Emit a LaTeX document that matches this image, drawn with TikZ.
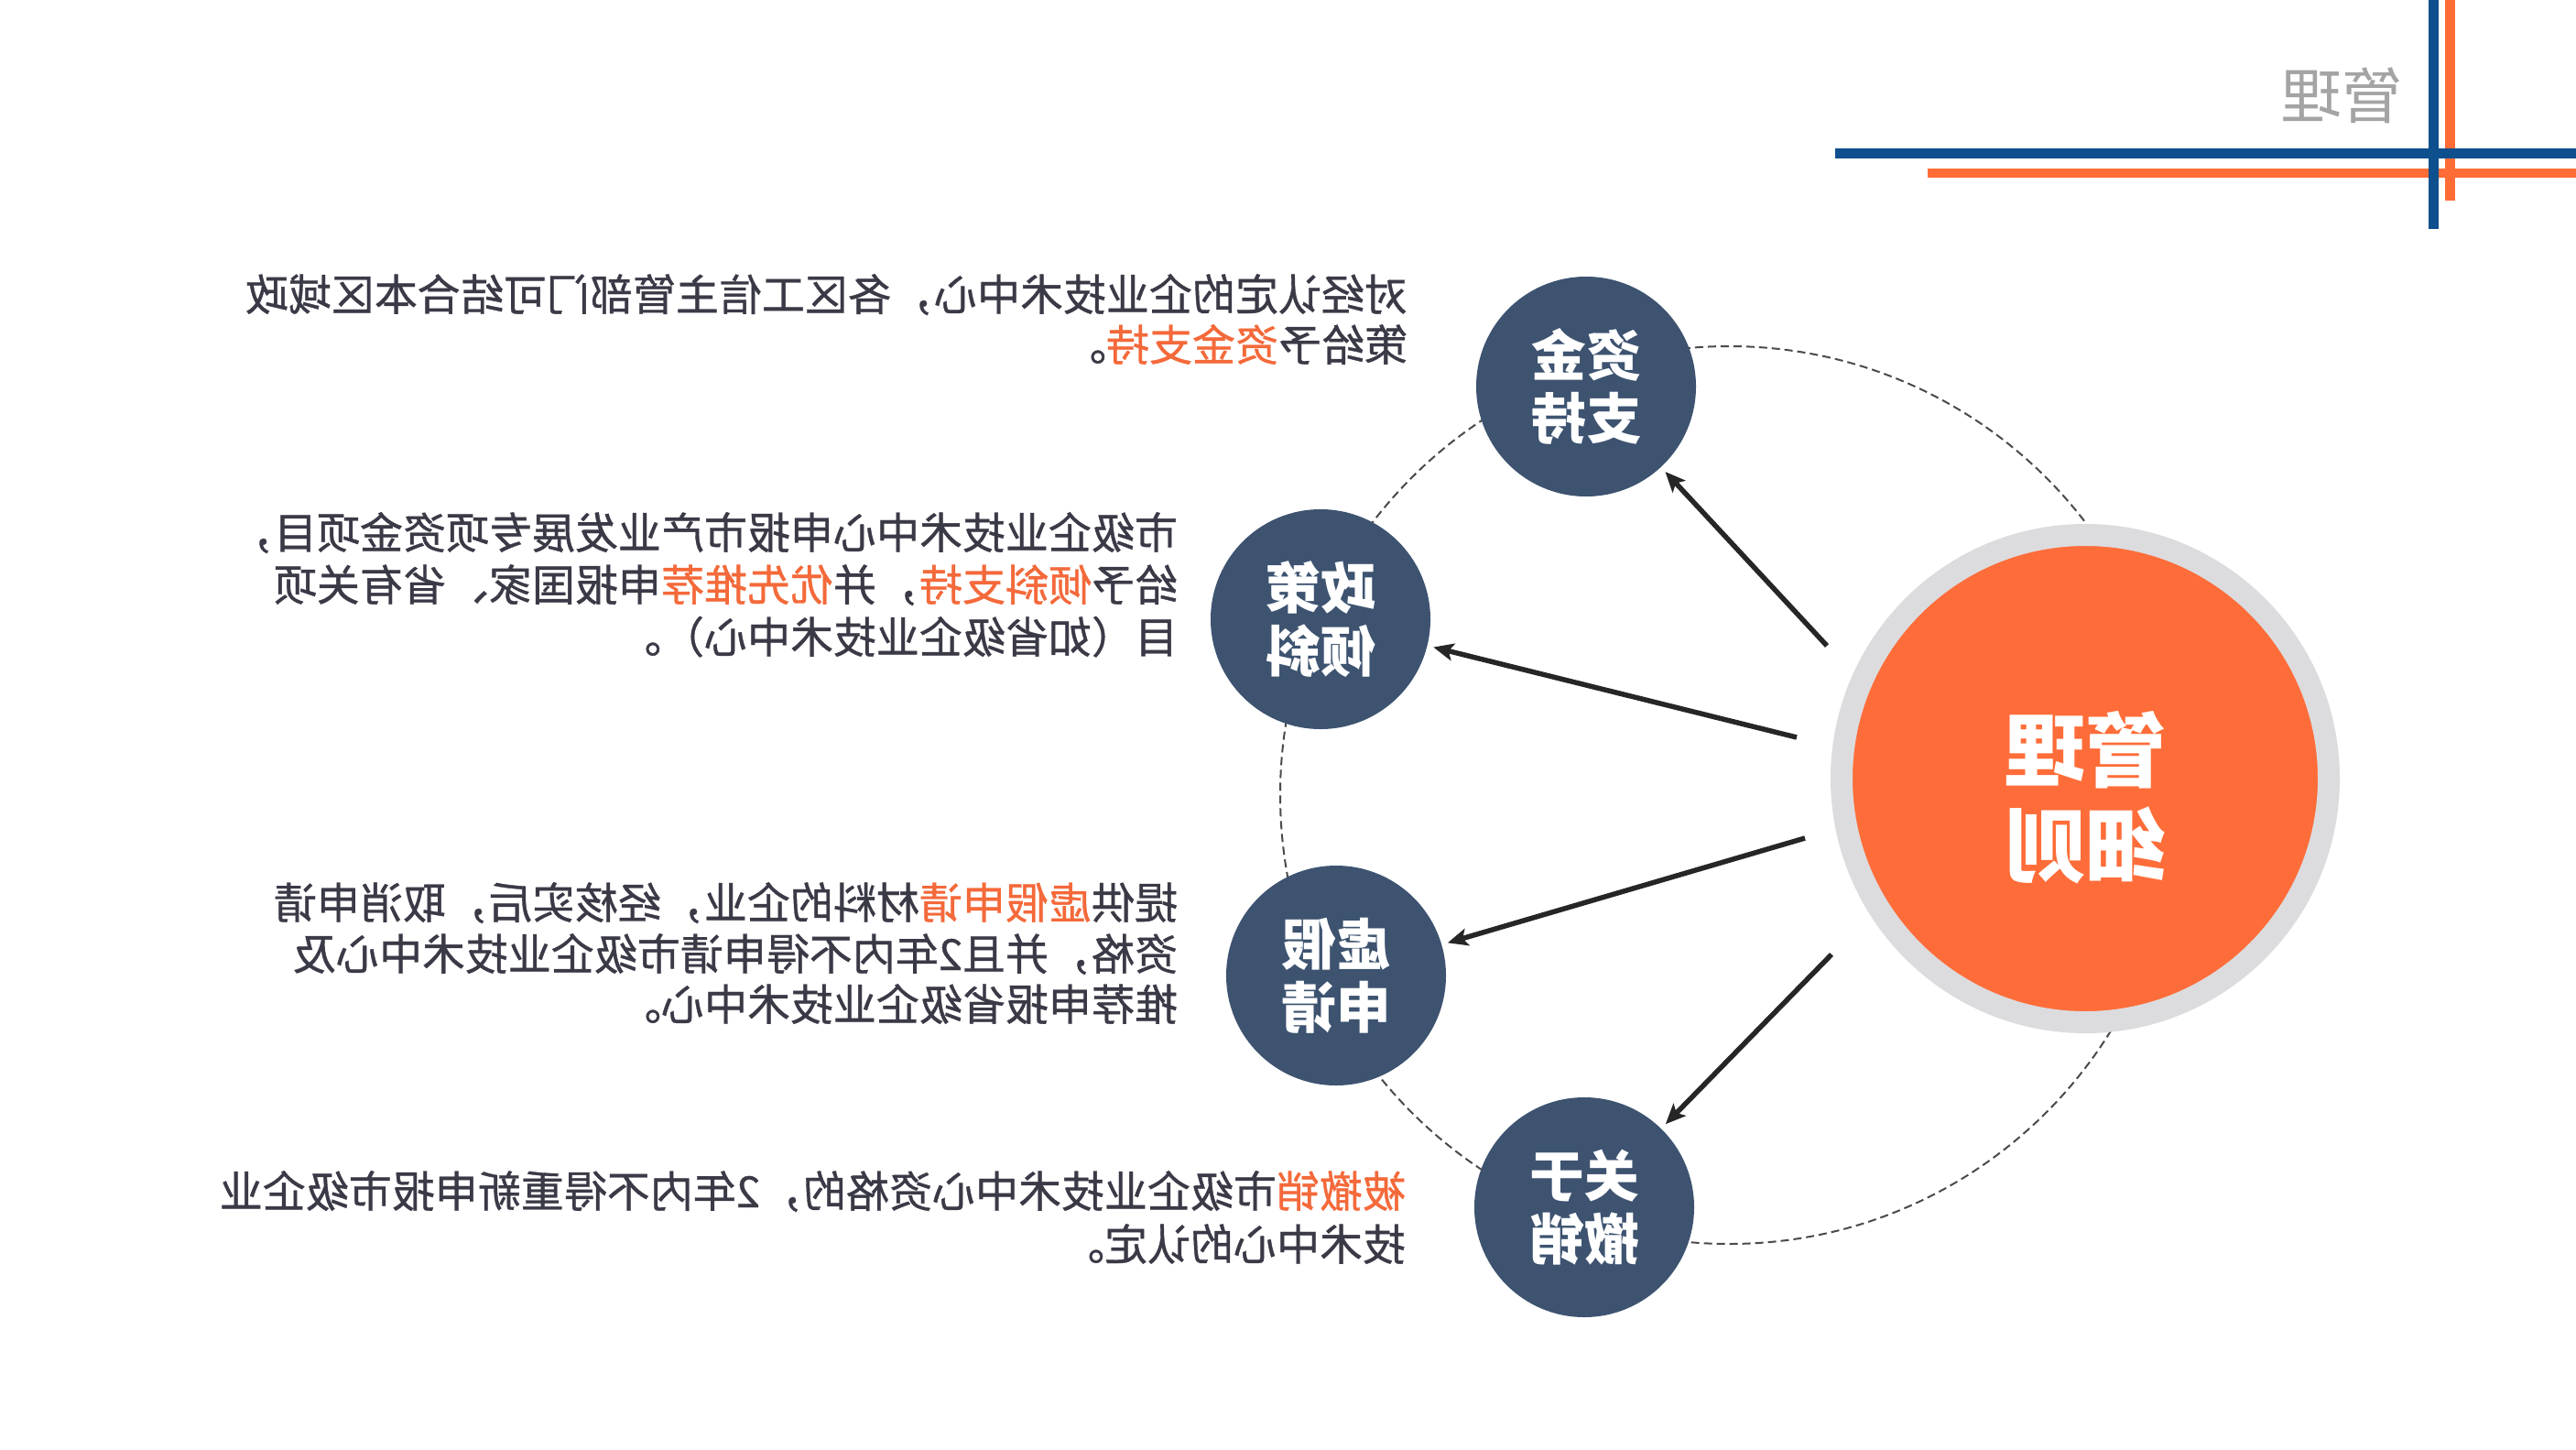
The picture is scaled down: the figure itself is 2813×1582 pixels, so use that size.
\documentclass[tikz,border=0pt]{standalone}
\usepackage{fontspec}
\setmainfont{Noto Sans CJK SC}
\newfontfamily\bodyf[FakeBold=0.8]{Noto Sans CJK SC}
\usetikzlibrary{arrows.meta}
\definecolor{navy}{HTML}{3D5370}
\definecolor{org}{HTML}{FE6D39}
\definecolor{hl}{HTML}{F4693A}
\definecolor{txt}{HTML}{3A3A47}
\definecolor{ring}{HTML}{DCDCDF}
\definecolor{lblue}{HTML}{0E4F8E}
\definecolor{lorg}{HTML}{FF6C36}
\definecolor{ttl}{HTML}{A4A4A4}
\definecolor{arrc}{HTML}{262626}
\definecolor{dashc}{HTML}{4A4A4A}
\tikzset{
  mir/.style={xscale=-1, inner sep=0pt, outer sep=0pt},
  body/.style={mir, anchor=base west, text=txt, font=\bodyf\fontsize{47pt}{56pt}\selectfont},
  bub/.style={circle, fill=navy, minimum size=240pt, inner sep=0pt, outer sep=0pt, text=white,
    font=\bfseries\fontsize{60pt}{69pt}\selectfont, align=center, xscale=-1},
  arrline/.style={draw=arrc, line width=5.5pt, -{Stealth[length=22pt,width=19pt,inset=5pt]}, shorten >=7pt},
  orbit/.style={draw=dashc, line width=2pt, dash pattern=on 9pt off 5pt},
}
\begin{document}
\begin{tikzpicture}[x=1pt,y=-1pt]
\fill[white] (0,0) rectangle (2813,1582);
\useasboundingbox (0,0) rectangle (2813,1582);
% decorative lines
\fill[lorg] (2105,184) rectangle (2813,194);
\fill[lorg] (2670,0) rectangle (2681,219);
\fill[lblue] (2004,162) rectangle (2813,173);
\fill[lblue] (2652,0) rectangle (2663,250);
\node[mir, text=ttl, font=\fontsize{66pt}{70pt}\selectfont] (title) at (2557,104) {管理};
% orbit
\coordinate (oc) at (1888,868);
\draw[orbit] (oc) circle[radius=490pt];
% bubbles
\node[bub] (zj) at (1732,422) {资金\\支持};
\node[bub] (zc) at (1442,676) {政策\\倾斜};
\node[bub] (xj) at (1459,1065) {虚假\\申请};
\node[bub] (gy) at (1730,1318) {关于\\撤销};
% centre
\node[circle, fill=org, draw=ring, line width=24pt, minimum size=532pt, inner sep=0pt] (mc) at (2277,850) {};
\node[mir, text=white, font=\bfseries\fontsize{88pt}{104pt}\selectfont, align=center] (mt) at (2277,871) {管理\\细则};
% arrows
\coordinate (a1) at (1995,705);
\coordinate (a2) at (1962,805);
\coordinate (a3) at (1971,915);
\coordinate (a4) at (2000,1042);
\draw[arrline] (a1) -- (zj);
\draw[arrline] (a2) -- (zc);
\draw[arrline] (a3) -- (xj);
\draw[arrline] (a4) -- (gy);
% texts
\node[body] (t1a) at (1537,339) {对经认定的企业技术中心，各区工信主管部门可结合本区域政};
\node[body] (t1b) at (1537,394) {策给予\textcolor{hl}{资金支持}。};
\node[body] (t2a) at (1286,599) {市级企业技术中心申报市产业发展专项资金项目，};
\node[body] (t2b) at (1286,656) {给予\textcolor{hl}{倾斜支持}，并\textcolor{hl}{优先推荐}申报国家、省有关项};
\node[body] (t2c) at (1286,713) {目（如省级企业技术中心）。};
\node[body] (t3a) at (1286,1003) {提供\textcolor{hl}{虚假申请}材料的企业，经核实后，取消申请};
\node[body] (t3b) at (1286,1059) {资格，并且2年内不得申请市级企业技术中心及};
\node[body] (t3c) at (1286,1114) {推荐申报省级企业技术中心。};
\node[body] (t4a) at (1535,1318) {\textcolor{hl}{被撤销}市级企业技术中心资格的，2年内不得重新申报市级企业};
\node[body] (t4b) at (1535,1376) {技术中心的认定。};
\end{tikzpicture}
\end{document}
